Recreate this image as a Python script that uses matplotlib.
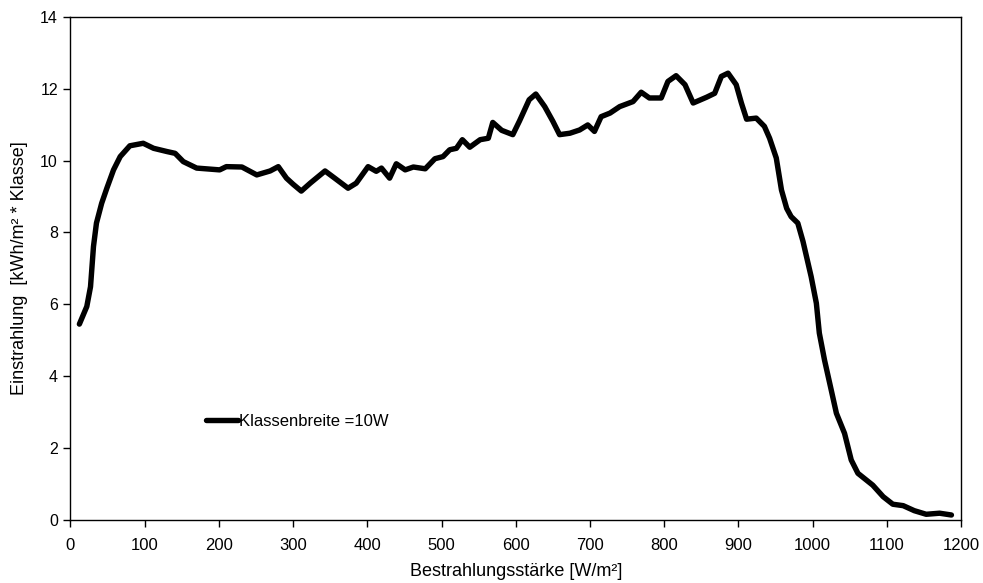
""" Einstrahlung je Klasse ueber der Bestrahlungsstaerke (Klassenbreite 10 W/m2)
"""
import matplotlib
matplotlib.use("Agg")
import matplotlib.pyplot as plt

# values
irradiance = [
    12, 22, 27, 31, 35, 42, 49, 58, 67, 80, 98, 112, 130, 141, 152, 170,
    201, 210, 231, 251, 269, 280, 291, 300, 311, 323, 343, 356, 374, 385,
    401, 412, 419, 430, 439, 451, 462, 478, 491, 502, 511, 520, 528, 538,
    552, 563, 569, 581, 596, 605, 618, 627, 639, 650, 659, 673, 686, 697,
    706, 715, 727, 740, 758, 769, 780, 796, 805, 816, 828, 839, 857, 868,
    877, 886, 897, 904, 911, 924, 935, 942, 951, 958, 965, 971, 980, 987,
    998, 1005, 1009, 1016, 1025, 1032, 1043, 1052, 1061, 1081, 1095, 1108,
    1122, 1137, 1153, 1171, 1187,
]
energy = [
    5.45, 5.94, 6.49, 7.61, 8.26, 8.81, 9.23, 9.74, 10.11, 10.41, 10.48,
    10.34, 10.25, 10.20, 9.97, 9.79, 9.74, 9.83, 9.82, 9.60, 9.71, 9.83,
    9.51, 9.34, 9.15, 9.37, 9.71, 9.51, 9.23, 9.37, 9.83, 9.70, 9.79, 9.51,
    9.91, 9.74, 9.82, 9.77, 10.05, 10.11, 10.30, 10.34, 10.58, 10.37, 10.58,
    10.62, 11.06, 10.84, 10.72, 11.10, 11.69, 11.85, 11.50, 11.09, 10.72,
    10.76, 10.85, 10.99, 10.81, 11.22, 11.32, 11.50, 11.64, 11.90, 11.74,
    11.74, 12.20, 12.36, 12.11, 11.60, 11.76, 11.87, 12.34, 12.43, 12.11,
    11.60, 11.15, 11.18, 10.95, 10.62, 10.07, 9.18, 8.67, 8.44, 8.26, 7.75,
    6.77, 6.03, 5.20, 4.45, 3.62, 2.97, 2.41, 1.67, 1.30, 0.97, 0.65, 0.44,
    0.40, 0.26, 0.16, 0.19, 0.14,
]
x_ticks = list(range(0, 1201, 100))
y_ticks = list(range(0, 15, 2))

plt.rcParams['font.family'] = ['Liberation Sans', 'DejaVu Sans']

fig = plt.figure(figsize=(9.83, 5.83), dpi=100)
ax = fig.add_axes([0.0717, 0.108, 0.906, 0.8633])

ax.plot(irradiance, energy, color='black', linewidth=3.9,
        solid_capstyle='round', solid_joinstyle='round',
        label="Klassenbreite =10W")

ax.set_xlim(0, 1200)
ax.set_ylim(0, 14)
ax.set_xticks(x_ticks)
ax.set_yticks(y_ticks)
ax.tick_params(axis='x', direction='out', length=5, width=1, pad=8,
               labelsize=12)
ax.tick_params(axis='y', direction='out', length=5, width=1, pad=4,
               labelsize=11.5)
for spine in ax.spines.values():
    spine.set_linewidth(1)
    spine.set_color('black')

ax.set_xlabel("Bestrahlungsstärke [W/m²]", fontsize=13)
ax.set_ylabel("Einstrahlung  [kWh/m² * Klasse]", fontsize=13)
ax.yaxis.set_label_coords(-0.048, 0.5)
ax.xaxis.set_label_coords(0.5, -0.086)

ax.legend(loc='center left', bbox_to_anchor=(0.145, 0.196), frameon=False,
          fontsize=12, handlelength=1.9, handletextpad=0.05,
          borderaxespad=0)

fig.savefig("out.png", dpi=100)
